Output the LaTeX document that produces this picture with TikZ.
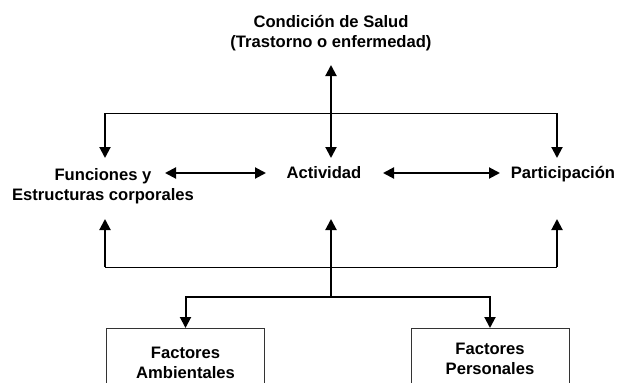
\documentclass[tikz,border=0pt]{standalone}
\usepackage{fontspec}
\setmainfont{Liberation Sans}
\usetikzlibrary{arrows.meta}
\begin{document}
\begin{tikzpicture}[x=1pt,y=1pt,
  lbl/.style={font=\bfseries\fontsize{16.6}{20}\selectfont, align=center, inner sep=0pt},
  thick2/.style={line width=2pt},
  thin1/.style={line width=1pt},
  arr/.style={thick2, -{Triangle[length=11pt,width=11pt]}},
  darr/.style={thick2, {Triangle[length=11pt,width=11pt]}-{Triangle[length=11pt,width=11pt]}},
  boxst/.style={draw=black!80, line width=1pt, minimum width=158pt, minimum height=90pt, anchor=north, inner sep=0pt}
]
\useasboundingbox (0,0) rectangle (619,-383);
\fill[white] (0,0) rectangle (619,-383);
\begin{scope}
\clip (0,0) rectangle (619,-383);
% nodes
\node[lbl] (cs) at (331,-33) {Condición de Salud\\(Trastorno o enfermedad)};
\node[lbl] (fe) at (103,-186) {Funciones y\\Estructuras corporales};
\node[lbl] (ac) at (324,-173) {Actividad};
\node[lbl] (pa) at (563,-174) {Participación};
\node[boxst] (fa) at (185.5,-328) {};
\node[boxst] (fp) at (490,-328) {};
\node[lbl] (fat) at (185.5,-363) {Factores\\Ambientales};
\node[lbl] (fpt) at (490,-359) {Factores\\Personales};
% coordinates
\coordinate (csb) at (331,-65);
\coordinate (acT) at (331,-158);
\coordinate (feT) at (105,-158);
\coordinate (paT) at (557,-158);
\coordinate (hTl) at (105,-113);
\coordinate (hTr) at (557,-113);
\coordinate (feB) at (105,-219);
\coordinate (acB) at (331,-219);
\coordinate (paB) at (557,-219);
\coordinate (hBl) at (105,-267);
\coordinate (hBr) at (557,-267);
\coordinate (jm) at (331,-297);
\coordinate (fe1) at (165,-173);
\coordinate (ac1) at (266,-173);
\coordinate (ac2) at (383,-173);
\coordinate (pa1) at (500,-173);
% top connectors
\draw[thin1] (hTl) -- (hTr);
\draw[darr] (csb) -- (acT);
\draw[arr] (hTl) -- (feT);
\draw[arr] (hTr) -- (paT);
% horizontal double arrows
\draw[darr] (fe1) -- (ac1);
\draw[darr] (ac2) -- (pa1);
% bottom connectors
\draw[thin1] (hBl) -- (hBr);
\draw[arr] (hBl) -- (feB);
\draw[arr] (hBr) -- (paB);
\draw[arr] (jm) -- (acB);
\draw[arr] (jm) -| (fa.north);
\draw[arr] (jm) -| (fp.north);
\end{scope}
\end{tikzpicture}
\end{document}
